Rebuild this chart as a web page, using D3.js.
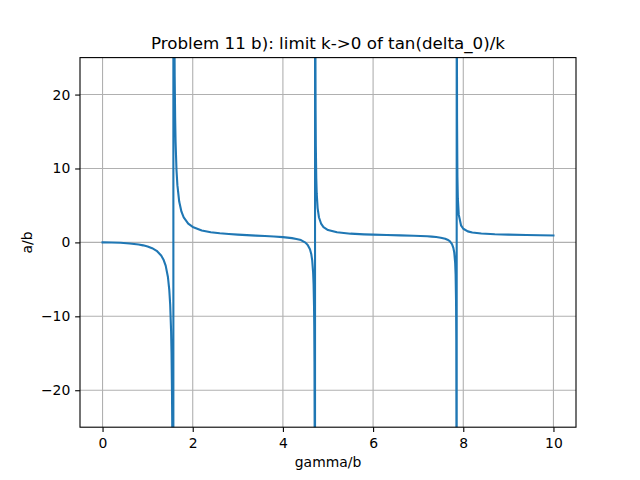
<!DOCTYPE html>
<html>
<head>
<meta charset="utf-8">
<script src="https://cdn.jsdelivr.net/npm/d3@7"></script>
<style>
  body { margin: 0; background: #fff; }
  text { font-family: "DejaVu Sans", sans-serif; fill: #000; }
</style>
</head>
<body>
<svg id="chart" width="640" height="480"></svg>
<script>
// values (a/b against gamma/b)
var gamma = [0, 0.2, 0.4, 0.6, 0.8, 0.9, 1.0, 1.1, 1.2, 1.3, 1.35, 1.4, 1.45, 1.48, 1.5, 1.52, 1.53, 1.54, 1.545, 1.55, 1.56, 1.565, 1.5707,
    1.5709, 1.575, 1.58, 1.59, 1.6, 1.61, 1.62, 1.64, 1.66, 1.7, 1.75, 1.8, 1.9, 2.0, 2.2, 2.4, 2.6, 2.8, 3.0, 3.2, 3.4, 3.6, 3.8, 4.0, 4.2, 4.3, 4.4, 4.5,
    4.55, 4.6, 4.63, 4.65, 4.67, 4.68, 4.69, 4.695, 4.7, 4.705, 4.7123,
    4.7125, 4.715, 4.72, 4.725, 4.73, 4.74, 4.75, 4.77, 4.8, 4.85, 4.9, 5.0, 5.2, 5.5, 5.8, 6.0, 6.3, 6.6, 6.9, 7.2, 7.3, 7.4, 7.5, 7.6, 7.65,
    7.7, 7.75, 7.78, 7.8, 7.82, 7.83, 7.84, 7.845, 7.85, 7.8539,
    7.8541, 7.858, 7.862, 7.87, 7.88, 7.9, 7.95, 8.0, 8.1, 8.2, 8.4, 8.7, 9.0, 9.4, 9.7, 10.0];
var ratio = [0, -0.014, -0.057, -0.14, -0.287, -0.4, -0.557, -0.786, -1.143, -1.771, -2.3, -3.14, -4.68, -6.42, -8.4, -11.94, -15.0, -20.1, -24.1, -30.0, -58.4, -109.2, -3000,
    3000, 152, 69.8, 33.7, 22.4, 16.84, 13.54, 9.8, 7.74, 5.53, 4.15, 3.38, 2.54, 2.09, 1.62, 1.38, 1.23, 1.127, 1.048, 0.982, 0.922, 0.863, 0.796, 0.711, 0.577, 0.468, 0.316, -0.031,
    -0.342, -0.926, -1.616, -2.443, -4.05, -5.59, -8.52, -11.25, -16.17, -27.8, -2400,
    1900, 82.2, 28.8, 17.8, 13.0, 8.64, 6.59, 4.64, 3.37, 2.49, 2.075, 1.676, 1.363, 1.181, 1.092, 1.049, 0.997, 0.95, 0.903, 0.825, 0.779, 0.723, 0.639, 0.493, 0.368,
    0.163, -0.236, -0.734, -1.373, -2.76, -4.32, -8.12, -13.19, -31.0, -1700,
    1700, 32.7, 16.86, 8.93, 5.88, 3.75, 2.31, 1.85, 1.49, 1.338, 1.196, 1.102, 1.05, 1.003, 0.971, 0.935];
var xTicks = [0, 2, 4, 6, 8, 10];
var yTicks = [-20, -10, 0, 10, 20];

var svg = d3.select('#chart');
var plotLeft = 80, plotTop = 57.6, w = 496, h = 369.6;

var x = d3.scaleLinear().domain([-0.5, 10.5]).range([plotLeft, plotLeft + w]);
var y = d3.scaleLinear().domain([-25, 25]).range([plotTop + h, plotTop]);

svg.append('defs').append('clipPath').attr('id', 'plotArea')
    .append('rect').attr('x', plotLeft).attr('y', plotTop).attr('width', w).attr('height', h);

// grid
svg.append('g').selectAll('line').data(xTicks).enter().append('line')
    .attr('x1', function(d) { return x(d); }).attr('x2', function(d) { return x(d); })
    .attr('y1', plotTop).attr('y2', plotTop + h)
    .style('stroke', '#b0b0b0').style('stroke-width', 1.1);
svg.append('g').selectAll('line').data(yTicks).enter().append('line')
    .attr('y1', function(d) { return y(d); }).attr('y2', function(d) { return y(d); })
    .attr('x1', plotLeft).attr('x2', plotLeft + w)
    .style('stroke', '#b0b0b0').style('stroke-width', 1.1);

// the curve
var pts = gamma.map(function(g, i) { return [g, ratio[i]]; });
svg.append('path')
    .datum(pts)
    .attr('clip-path', 'url(#plotArea)')
    .attr('d', d3.line().x(function(d) { return x(d[0]); }).y(function(d) { return y(d[1]); }))
    .style('fill', 'none')
    .style('stroke', '#1f77b4')
    .style('stroke-width', 2.1)
    .style('stroke-linejoin', 'round')
    .style('stroke-linecap', 'square');

// axes
var fmt = d3.format('d');
var xAxis = d3.axisBottom(x).tickValues(xTicks).tickFormat(fmt).tickSize(4.86).tickPadding(4.86);
var yAxis = d3.axisLeft(y).tickValues(yTicks).tickFormat(fmt).tickSize(4.86).tickPadding(4.86);

var gx = svg.append('g').attr('transform', 'translate(0,' + (plotTop + h) + ')').call(xAxis);
var gy = svg.append('g').attr('transform', 'translate(' + plotLeft + ',0)').call(yAxis);
[gx, gy].forEach(function(g) {
    g.select('.domain').remove();
    g.selectAll('.tick line').style('stroke', '#000').style('stroke-width', 1.1);
    g.selectAll('.tick text').style('font-size', '13.9px').style('font-family', '"DejaVu Sans", sans-serif');
});
gx.selectAll('.tick text').attr('dy', '0.8em');

svg.append('rect')
    .attr('x', plotLeft).attr('y', plotTop).attr('width', w).attr('height', h)
    .style('fill', 'none').style('stroke', '#000').style('stroke-width', 1.1);

// labels
svg.append('text')
    .attr('x', plotLeft + w / 2).attr('y', 49.3)
    .attr('text-anchor', 'middle')
    .style('font-size', '16.7px')
    .text('Problem 11 b): limit k->0 of tan(delta_0)/k');

svg.append('text')
    .attr('x', plotLeft + w / 2).attr('y', 466.5)
    .attr('text-anchor', 'middle')
    .style('font-size', '13.9px')
    .text('gamma/b');

svg.append('text')
    .attr('transform', 'translate(32.2,' + (plotTop + h / 2) + ') rotate(-90)')
    .attr('text-anchor', 'middle')
    .style('font-size', '13.9px')
    .text('a/b');
</script>
</body>
</html>
